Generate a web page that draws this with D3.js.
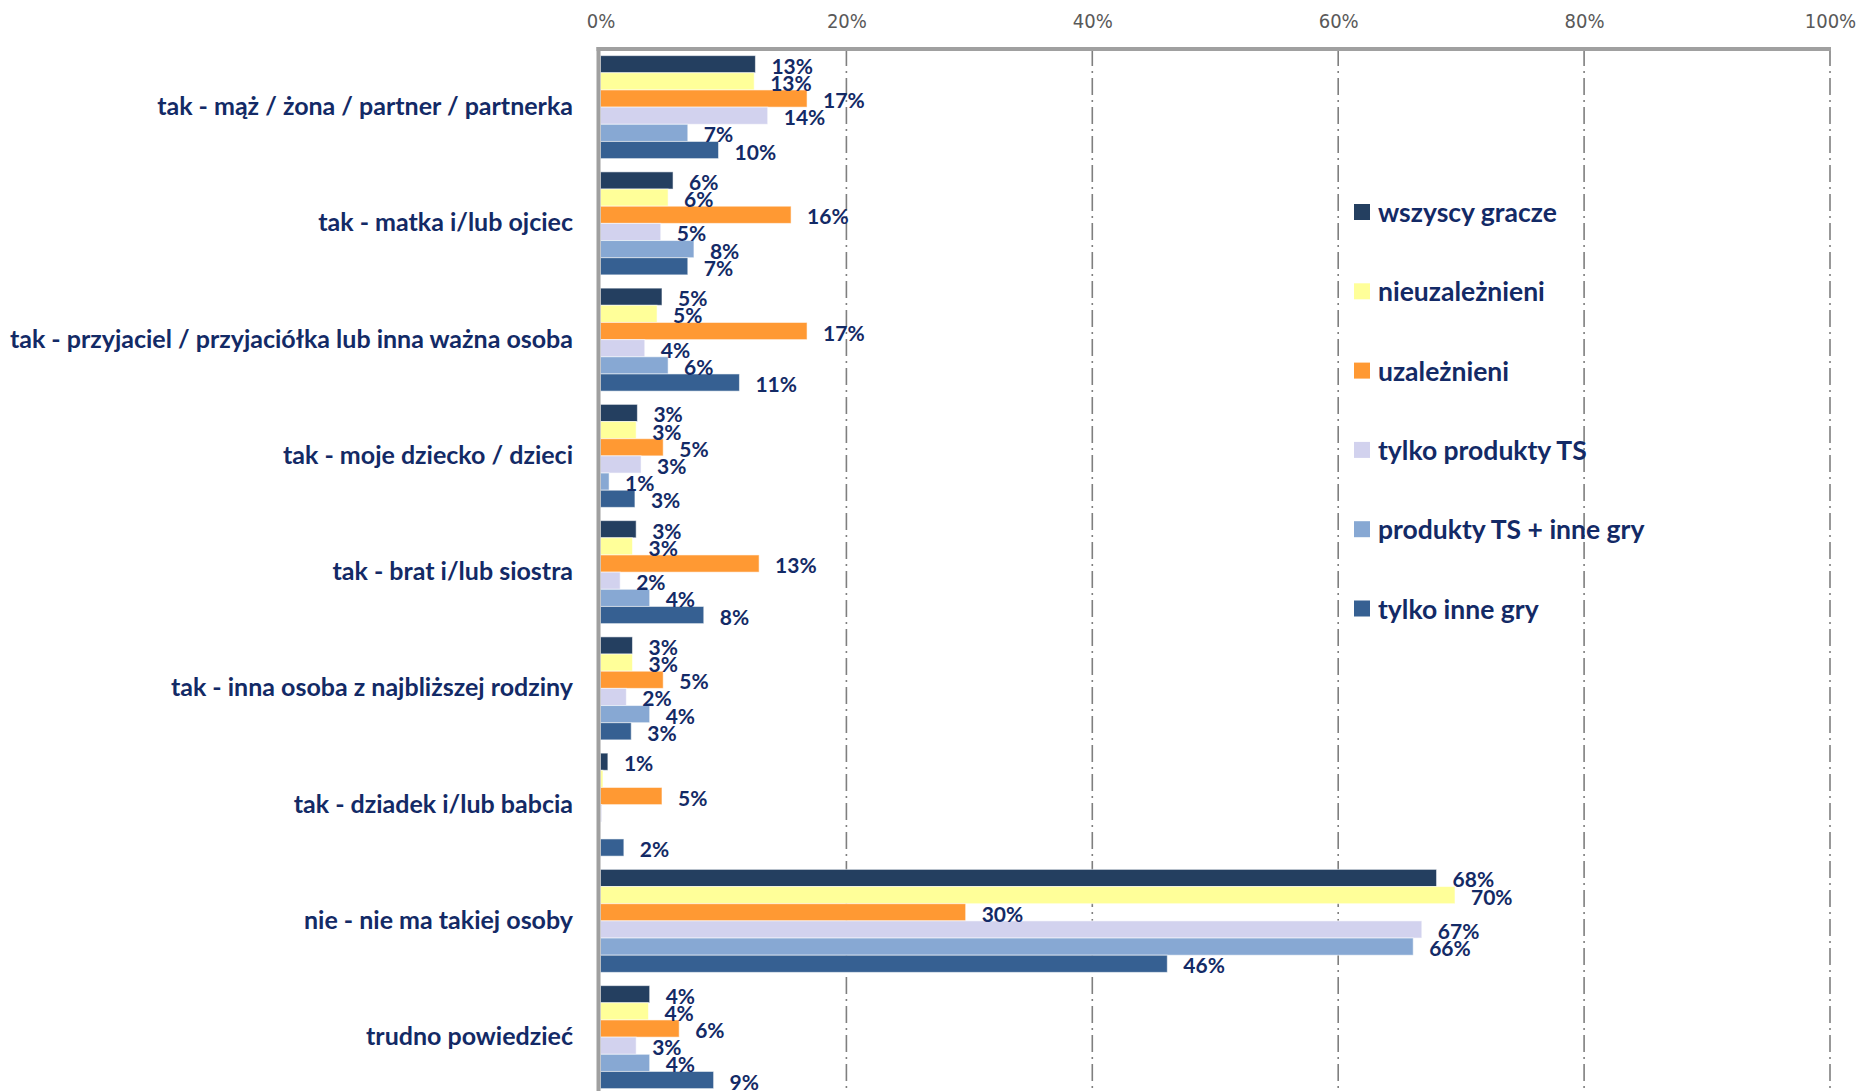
<!DOCTYPE html>
<html>
<head>
<meta charset="utf-8">
<script src="https://cdn.jsdelivr.net/npm/d3@7"></script>
<style>
    body { margin: 0; background: #ffffff; }
    svg { display: block; }
</style>
</head>
<body>
<svg id="chart" width="1862" height="1091"></svg>
<script>
const categories = [
    "tak - mąż / żona / partner / partnerka",
    "tak - matka i/lub ojciec",
    "tak - przyjaciel / przyjaciółka lub inna ważna osoba",
    "tak - moje dziecko / dzieci",
    "tak - brat i/lub siostra",
    "tak - inna osoba z najbliższej rodziny",
    "tak - dziadek i/lub babcia",
    "nie - nie ma takiej osoby",
    "trudno powiedzieć"
];
const seriesNames = ["wszyscy gracze", "nieuzależnieni", "uzależnieni", "tylko produkty TS", "produkty TS + inne gry", "tylko inne gry"];
const seriesColors = ["#243f60", "#ffff99", "#ff9933", "#d2d2ee", "#87a8d3", "#366092"];

// values in %, one array per series, in category order
const wszyscyGracze = [12.6, 5.9, 5.0, 3.0, 2.9, 2.6, 0.6, 68.0, 4.0];
const nieuzaleznieni = [12.5, 5.5, 4.6, 2.9, 2.6, 2.6, 0.2, 69.5, 3.9];
const uzaleznieni = [16.8, 15.5, 16.8, 5.1, 12.9, 5.1, 5.0, 29.7, 6.4];
const tylkoProduktyTS = [13.6, 4.9, 3.6, 3.3, 1.6, 2.1, 0.1, 66.8, 2.9];
const produktyTSInneGry = [7.1, 7.6, 5.5, 0.7, 4.0, 4.0, 0, 66.1, 4.0];
const tylkoInneGry = [9.6, 7.1, 11.3, 2.8, 8.4, 2.5, 1.9, 46.1, 9.2];
const xTicks = [0, 20, 40, 60, 80, 100];

const seriesValues = [wszyscyGracze, nieuzaleznieni, uzaleznieni, tylkoProduktyTS, produktyTSInneGry, tylkoInneGry];

const navy = "#132a66";
const svg = d3.select("#chart");

const plotTop = 49;
const step = 116.25;
let x = d3.scaleLinear().domain([0, 100]).range([600.5, 1830]);
let y = d3.scaleBand()
    .domain(categories)
    .range([plotTop, plotTop + step * categories.length])
    .paddingInner(0.114)
    .paddingOuter(0.057);
let ySeries = d3.scaleBand()
    .domain(seriesNames)
    .range([0, y.bandwidth()]);

// gridlines (dash-dot)
svg.append("g")
    .selectAll("line")
    .data(xTicks.filter(d => d > 0))
    .enter()
    .append("line")
    .attr("x1", d => x(d))
    .attr("x2", d => x(d))
    .attr("y1", plotTop)
    .attr("y2", 1091)
    .style("stroke", "#7f7f7f")
    .style("stroke-width", 1.6)
    .style("stroke-dasharray", "17,5,2,5");

// top axis labels
let xAxis = d3.axisTop(x)
    .tickValues(xTicks)
    .tickFormat(d => d + "%")
    .tickSize(0)
    .tickPadding(0);
let axisG = svg.append("g")
    .attr("transform", "translate(0,28)")
    .call(xAxis);
axisG.select(".domain").remove();
axisG.selectAll("text")
    .style("font-family", "'DejaVu Sans Condensed', 'DejaVu Sans', sans-serif")
    .style("font-size", "20px")
    .style("fill", "#595959");

// bars
let data = [];
categories.forEach((cat, ci) => {
    seriesNames.forEach((name, si) => {
        data.push({'category': cat, 'series': name, 'value': seriesValues[si][ci], 'color': seriesColors[si]});
    });
});

svg.append("g")
    .selectAll("rect")
    .data(data)
    .enter()
    .append("rect")
    .attr("x", x(0))
    .attr("y", d => y(d.category) + ySeries(d.series))
    .attr("width", d => x(d.value) - x(0))
    .attr("height", ySeries.bandwidth())
    .style("fill", d => d.color)
    .style("stroke", "#ffffff")
    .style("stroke-opacity", 0.55)
    .style("stroke-width", 1);

// value labels
svg.append("g")
    .selectAll("text")
    .data(data.filter(d => d.value >= 0.5))
    .enter()
    .append("text")
    .attr("x", d => x(d.value) + 16)
    .attr("y", d => y(d.category) + ySeries(d.series) + ySeries.bandwidth() / 2 + 1)
    .attr("dominant-baseline", "central")
    .style("font-family", "Lato, sans-serif")
    .style("font-weight", "bold")
    .style("font-size", "21px")
    .style("fill", navy)
    .text(d => Math.round(d.value) + "%");

// axis lines
svg.append("line")
    .attr("x1", 596.5).attr("x2", x(100) + 1)
    .attr("y1", plotTop).attr("y2", plotTop)
    .style("stroke", "#a0a0a0")
    .style("stroke-width", 4);
svg.append("line")
    .attr("x1", 598.5).attr("x2", 598.5)
    .attr("y1", plotTop - 2).attr("y2", 1091)
    .style("stroke", "#a0a0a0")
    .style("stroke-width", 4);

// category labels
svg.append("g")
    .selectAll("text")
    .data(categories)
    .enter()
    .append("text")
    .attr("x", 573)
    .attr("y", d => y(d) + y.bandwidth() / 2 - 2)
    .attr("text-anchor", "end")
    .attr("dominant-baseline", "central")
    .style("font-family", "Lato, sans-serif")
    .style("font-weight", "bold")
    .style("font-size", "25px")
    .style("fill", navy)
    .text(d => d);

// legend
const size = 16;
let legend = svg.append("g")
    .selectAll("g")
    .data(seriesNames)
    .enter()
    .append("g")
    .attr("transform", (d, i) => `translate(1354,${212 + i * 79.3})`);
legend.append("rect")
    .attr("x", 0)
    .attr("y", -size / 2)
    .attr("width", size)
    .attr("height", size)
    .style("fill", (d, i) => seriesColors[i]);
legend.append("text")
    .attr("x", 24)
    .attr("y", 0)
    .attr("dominant-baseline", "central")
    .style("font-family", "Lato, sans-serif")
    .style("font-weight", "bold")
    .style("font-size", "26.5px")
    .style("fill", navy)
    .text(d => d);
</script>
</body>
</html>
